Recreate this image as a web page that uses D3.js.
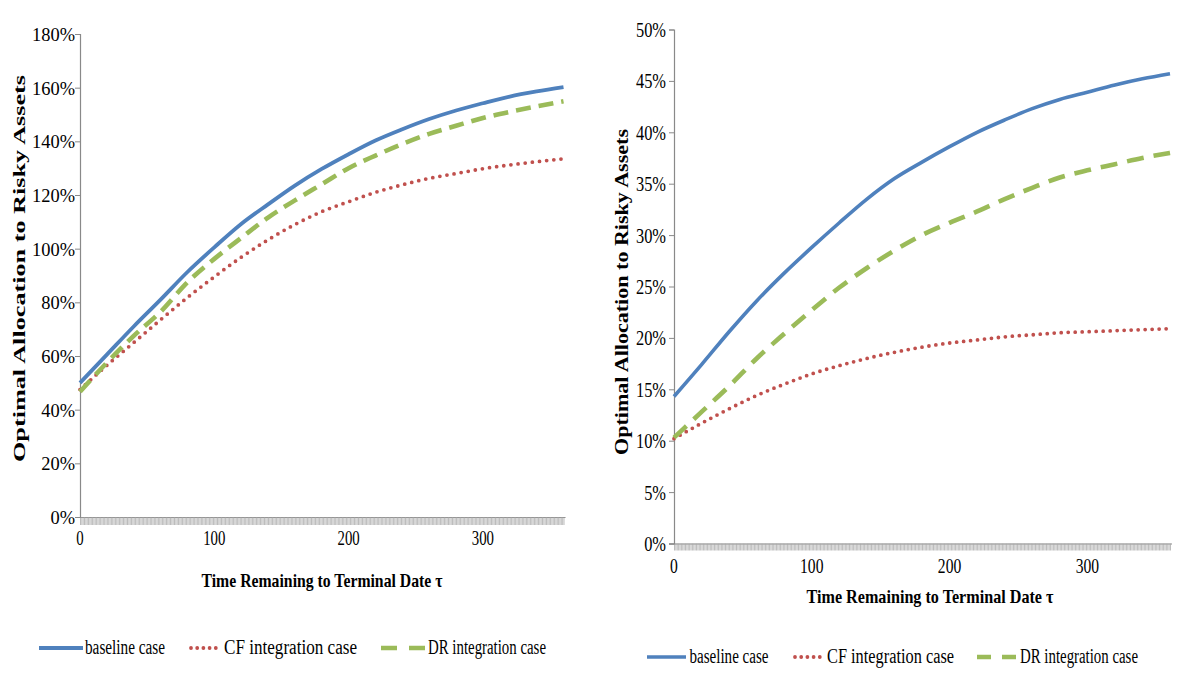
<!DOCTYPE html>
<html>
<head>
<meta charset="utf-8">
<script src="https://cdn.jsdelivr.net/npm/d3@7"></script>
<style>
  html, body { margin: 0; padding: 0; background: #fff; }
  svg { display: block; }
</style>
</head>
<body>
<svg id="chart" width="1188" height="683"></svg>
<script>
// ---------------- DATA ----------------
const tau = [0, 20, 40, 60, 80, 100, 120, 140, 160, 180, 200, 220, 240, 260, 280, 300, 320, 340, 360];

// Left panel (allocation, fraction)
const leftBaseline = [0.500, 0.605, 0.710, 0.810, 0.913, 1.005, 1.092, 1.165, 1.235, 1.297, 1.352, 1.403, 1.445, 1.483, 1.515, 1.542, 1.567, 1.586, 1.602];
const leftCF       = [0.475, 0.565, 0.650, 0.735, 0.818, 0.895, 0.968, 1.033, 1.090, 1.138, 1.175, 1.210, 1.238, 1.262, 1.280, 1.298, 1.312, 1.324, 1.335];
const leftDR       = [0.467, 0.575, 0.675, 0.765, 0.875, 0.962, 1.040, 1.116, 1.180, 1.240, 1.300, 1.347, 1.390, 1.428, 1.458, 1.487, 1.510, 1.530, 1.549];

// Right panel
const rightBaseline = [0.143, 0.174, 0.206, 0.236, 0.263, 0.288, 0.312, 0.335, 0.355, 0.371, 0.386, 0.400, 0.412, 0.423, 0.432, 0.439, 0.446, 0.452, 0.457];
const rightCF       = [0.102, 0.117, 0.131, 0.144, 0.155, 0.165, 0.173, 0.180, 0.186, 0.191, 0.195, 0.198, 0.201, 0.203, 0.205, 0.206, 0.207, 0.208, 0.209];
const rightDR       = [0.103, 0.128, 0.153, 0.180, 0.204, 0.227, 0.249, 0.268, 0.285, 0.300, 0.312, 0.323, 0.335, 0.346, 0.356, 0.363, 0.369, 0.375, 0.380];

const categories = d3.range(0, 361);          // category axis (one tick per category)
const xTickLabels = [0, 100, 200, 300];
const leftYTicks = [0, 0.2, 0.4, 0.6, 0.8, 1.0, 1.2, 1.4, 1.6, 1.8];
const rightYTicks = [0, 0.05, 0.10, 0.15, 0.20, 0.25, 0.30, 0.35, 0.40, 0.45, 0.50];

const seriesNames = ["baseline case", "CF integration case", "DR integration case"];
const yTitle = "Optimal  Allocation to Risky  Assets";
const xTitle = "Time Remaining to Terminal  Date \u03c4";

// ---------------- STYLE ----------------
const colors = ["#4F81BD", "#C0504D", "#9BBB59"];
const axisColor = "#898989";
const FONT = "'Liberation Serif', 'DejaVu Serif', serif";

const svg = d3.select("#chart").attr("font-family", FONT);

function squeeze(sel, factor) {
  sel.each(function () {
    const w = this.getComputedTextLength();
    d3.select(this).attr("textLength", w * factor).attr("lengthAdjust", "spacingAndGlyphs");
  });
}

function panel(cfg) {
  const x = d3.scaleLinear().domain([0, 360]).range(cfg.xRange);
  const y = d3.scaleLinear().domain(cfg.yDomain).range(cfg.yRange);
  const g = svg.append("g").attr("font-family", FONT);

  // category tick marks
  const xAxis = d3.axisBottom(x).tickValues(categories).tickSize(cfg.xTickLen).tickFormat("");
  const gx = g.append("g").attr("transform", `translate(0,${cfg.yRange[0]})`).call(xAxis);
  gx.select(".domain").attr("stroke", axisColor).attr("stroke-width", 1.2)
    .attr("d", `M${cfg.xRange[0] - 5},0.5H${cfg.xRange[1] + 2}`);
  gx.selectAll(".tick line").attr("stroke", "#a6a6a6").attr("stroke-width", 0.75);

  // x tick labels
  g.append("g").selectAll("text").data(xTickLabels).join("text")
    .attr("font-family", FONT)
    .attr("x", d => x(d)).attr("y", cfg.yRange[0] + cfg.xLabelDy)
    .attr("text-anchor", "middle").attr("font-size", cfg.xLabelSize)
    .text(d => d).call(squeeze, cfg.xLabelSqueeze);

  // y axis
  const yAxis = d3.axisLeft(y).tickValues(cfg.yTicks).tickSize(5).tickFormat("");
  const gy = g.append("g").attr("transform", `translate(${cfg.xRange[0]},0)`).call(yAxis);
  gy.select(".domain").attr("stroke", axisColor).attr("stroke-width", 1.2);
  gy.selectAll(".tick line").attr("stroke", axisColor);

  g.append("g").selectAll("text").data(cfg.yTicks).join("text")
    .attr("font-family", FONT)
    .attr("x", cfg.xRange[0] - cfg.yLabelGap).attr("y", d => y(d) + cfg.yLabelDy)
    .attr("text-anchor", "end").attr("font-size", cfg.yLabelSize)
    .text(d => d3.format(".0%")(d)).call(squeeze, cfg.yLabelSqueeze);

  // series
  const line = d3.line().x((d, i) => x(tau[i])).y(d => y(d)).curve(d3.curveMonotoneX);
  const styles = cfg.styles;
  cfg.series.forEach((s, k) => {
    g.append("path").datum(s).attr("d", line)
      .attr("fill", "none").attr("stroke", colors[k])
      .attr("stroke-width", styles[k].w)
      .attr("stroke-dasharray", styles[k].dash)
      .attr("stroke-linecap", styles[k].cap);
  });

  // axis titles
  g.append("text").attr("x", cfg.xTitle.x).attr("y", cfg.xTitle.y)
    .attr("font-family", FONT)
    .attr("text-anchor", "middle").attr("font-weight", "bold").attr("font-size", cfg.xTitle.size)
    .attr("textLength", cfg.xTitle.len).attr("lengthAdjust", "spacingAndGlyphs")
    .text(xTitle);
  g.append("text").attr("transform", `translate(${cfg.yTitle.x},${cfg.yTitle.y}) rotate(-90)`)
    .attr("font-family", FONT)
    .attr("text-anchor", "middle").attr("font-weight", "bold").attr("font-size", cfg.yTitle.size)
    .attr("textLength", cfg.yTitle.len).attr("lengthAdjust", "spacingAndGlyphs")
    .text(yTitle);

  // legend
  const lg = g.append("g");
  cfg.legend.items.forEach((it, k) => {
    lg.append("line").attr("x1", it.x1).attr("x2", it.x2)
      .attr("y1", cfg.legend.lineY).attr("y2", cfg.legend.lineY)
      .attr("stroke", colors[k]).attr("stroke-width", styles[k].w)
      .attr("stroke-dasharray", it.dash).attr("stroke-linecap", styles[k].cap);
    lg.append("text").attr("x", it.tx).attr("y", cfg.legend.textY)
      .attr("font-family", FONT)
      .attr("font-size", cfg.legend.size)
      .attr("textLength", it.tlen).attr("lengthAdjust", "spacingAndGlyphs")
      .text(seriesNames[k]);
  });
}

panel({
  xRange: [80, 563.5], yDomain: [0, 1.8], yRange: [517, 34],
  yTicks: leftYTicks, xTickLen: 8,
  xLabelDy: 28, xLabelSize: 20, xLabelSqueeze: 0.74,
  yLabelGap: 5, yLabelDy: 7, yLabelSize: 19, yLabelSqueeze: 0.97,
  series: [leftBaseline, leftCF, leftDR],
  styles: [
    { w: 3.8, dash: null, cap: "butt" },
    { w: 3.8, dash: "0,7.2", cap: "round" },
    { w: 4.6, dash: "15,8", cap: "butt" }
  ],
  xTitle: { x: 322, y: 587, size: 19, len: 241 },
  yTitle: { x: 24.5, y: 268.5, size: 17, len: 387 },
  legend: {
    lineY: 648, textY: 654, size: 20,
    items: [
      { x1: 39, x2: 83, dash: null, tx: 85, tlen: 80 },
      { x1: 191, x2: 221, dash: "0,6.2", tx: 224, tlen: 133 },
      { x1: 381, x2: 426, dash: "16,12", tx: 428, tlen: 118 }
    ]
  }
});

panel({
  xRange: [674, 1170], yDomain: [0, 0.5], yRange: [543.5, 29.5],
  yTicks: rightYTicks, xTickLen: 7,
  xLabelDy: 29.5, xLabelSize: 20, xLabelSqueeze: 0.78,
  yLabelGap: 8, yLabelDy: 7.5, yLabelSize: 21, yLabelSqueeze: 0.78,
  series: [rightBaseline, rightCF, rightDR],
  styles: [
    { w: 3.6, dash: null, cap: "butt" },
    { w: 3.8, dash: "0,7", cap: "round" },
    { w: 4.6, dash: "17,10", cap: "butt" }
  ],
  xTitle: { x: 930, y: 603, size: 19, len: 247 },
  yTitle: { x: 628, y: 292, size: 18, len: 326 },
  legend: {
    lineY: 657, textY: 663, size: 20,
    items: [
      { x1: 647, x2: 686, dash: null, tx: 689.5, tlen: 79 },
      { x1: 795, x2: 825, dash: "0,6.2", tx: 827, tlen: 127 },
      { x1: 977, x2: 1016, dash: "14,11", tx: 1020, tlen: 118 }
    ]
  }
});
</script>
</body>
</html>
